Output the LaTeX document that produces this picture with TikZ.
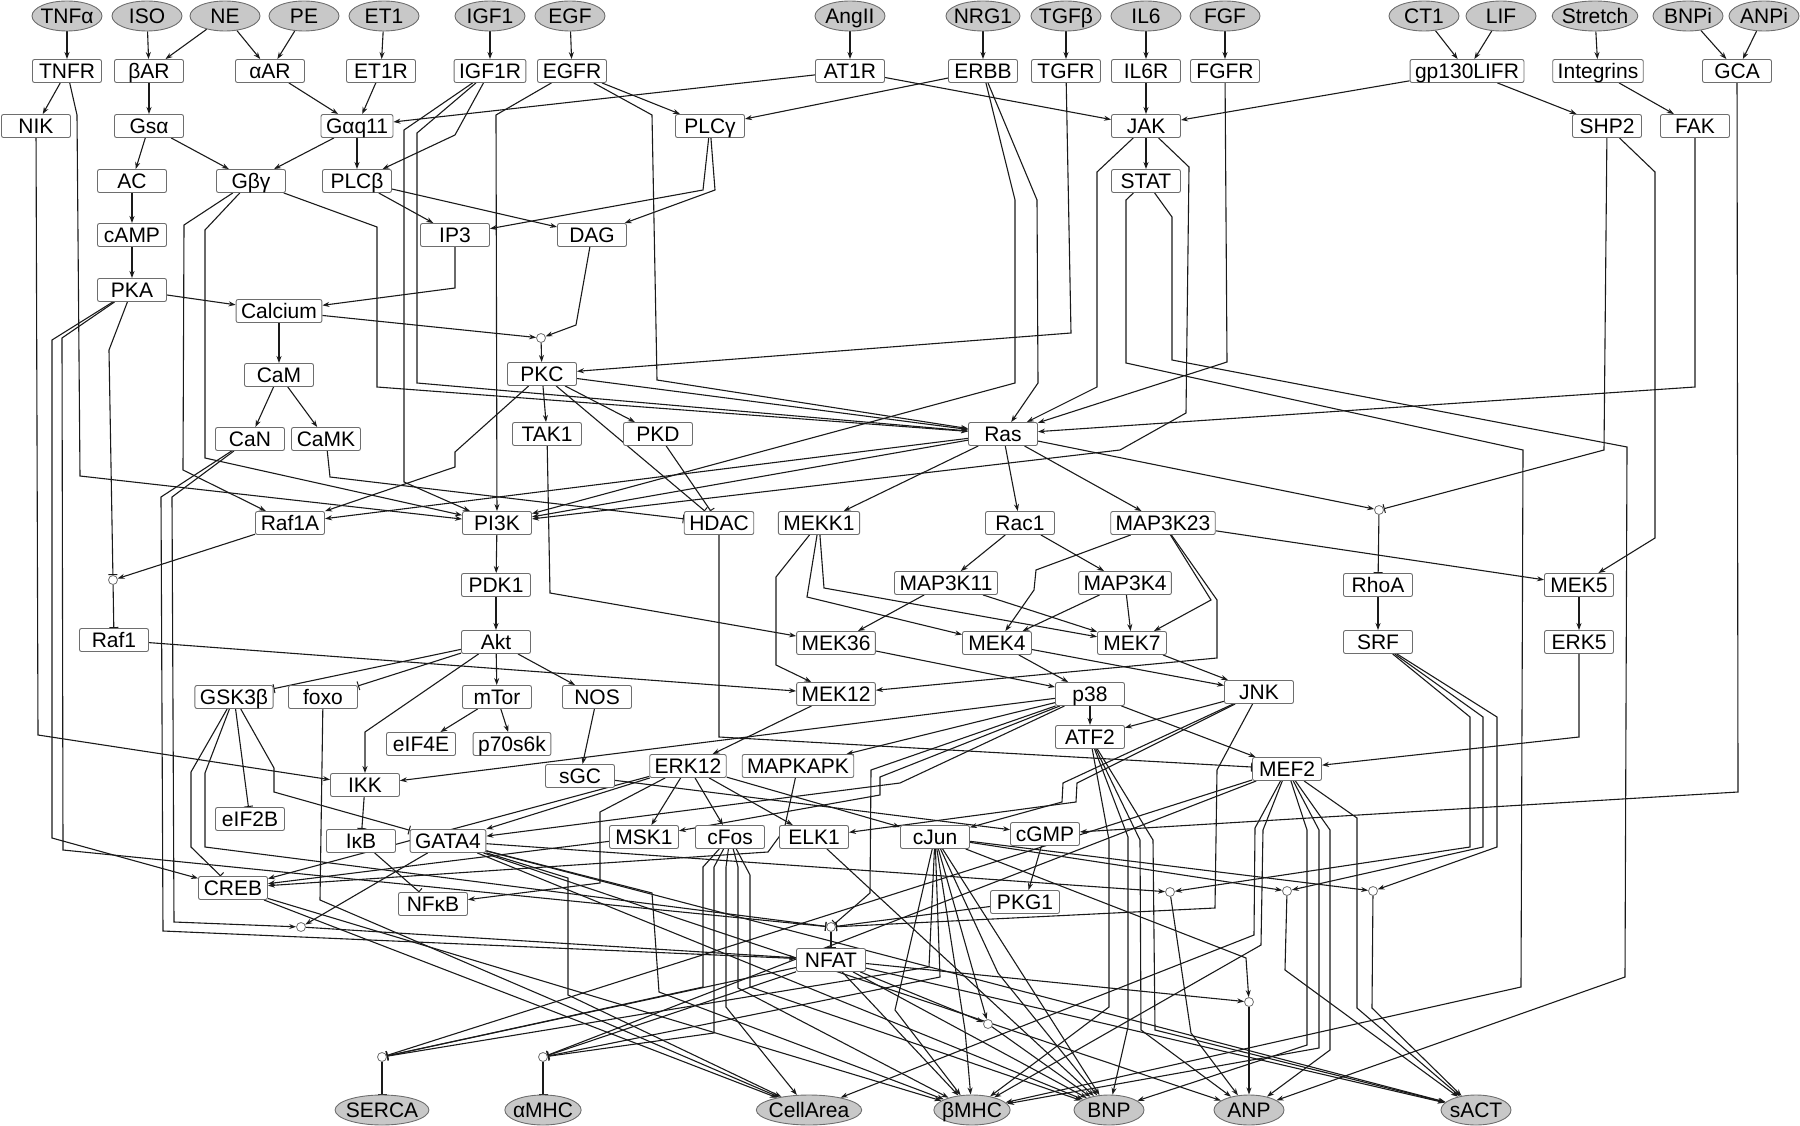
\documentclass[tikz,border=0pt]{standalone}
\usepackage{fontspec}
\setmainfont{Liberation Sans}
\usetikzlibrary{shapes.geometric,arrows.meta}
\definecolor{NodeGray}{HTML}{C8C8C8}
\definecolor{FrameGray}{HTML}{6E6E6E}
\definecolor{LineBlack}{HTML}{1A1A1A}
\pgfdeclarelayer{background}
\pgfsetlayers{background,main}

\begin{document}
\begin{tikzpicture}[
    x=1pt, y=-1pt,
    every node/.style={font=\fontsize{21}{24}\selectfont},
    ligand/.style={ellipse, draw=FrameGray, fill=NodeGray, line width=0.9pt, inner xsep=-3pt, inner ysep=0pt, minimum width=70pt, minimum height=30pt, text height=15pt, text depth=0pt},
    box/.style={rectangle, draw=FrameGray, fill=white, line width=0.9pt, rounded corners=2pt, inner xsep=5pt, inner ysep=0pt, minimum width=69pt, minimum height=23pt, text height=15pt, text depth=0pt},
    gate/.style={circle, draw=FrameGray, fill=white, line width=0.8pt, inner sep=0pt, minimum size=9pt},
    act/.style={-{Stealth[length=7pt,width=5pt]}, line width=1.1pt, draw=LineBlack},
    inh/.style={-{Bar[width=9pt,line width=1pt]}, line width=1.1pt, draw=LineBlack}
  ]
    \useasboundingbox (0,0) rectangle (1800,1126);

    % Inputs (top row)
    \node[ligand] (TNFa) at (67,16) {TNFα};
    \node[ligand] (ISO) at (147,16) {ISO};
    \node[ligand] (NE) at (225,16) {NE};
    \node[ligand] (PE) at (304,16) {PE};
    \node[ligand] (ET1) at (384,16) {ET1};
    \node[ligand] (IGF1) at (490,16) {IGF1};
    \node[ligand] (EGF) at (570,16) {EGF};
    \node[ligand] (AngII) at (850,16) {AngII};
    \node[ligand] (NRG1) at (983,16) {NRG1};
    \node[ligand] (TGFb) at (1066,16) {TGFβ};
    \node[ligand] (IL6) at (1146,16) {IL6};
    \node[ligand] (FGF) at (1225,16) {FGF};
    \node[ligand] (CT1) at (1424,16) {CT1};
    \node[ligand] (LIF) at (1501,16) {LIF};
    \node[ligand] (Stretch) at (1595,16) {Stretch};
    \node[ligand] (BNPi) at (1688,16) {BNPi};
    \node[ligand] (ANPi) at (1764,16) {ANPi};

    % Receptors
    \node[box] (TNFR) at (67,71) {TNFR};
    \node[box] (bAR) at (149,71) {βAR};
    \node[box] (aAR) at (270,71) {αAR};
    \node[box] (ET1R) at (381,71) {ET1R};
    \node[box] (IGF1R) at (490,71) {IGF1R};
    \node[box] (EGFR) at (572,71) {EGFR};
    \node[box] (AT1R) at (850,71) {AT1R};
    \node[box] (ERBB) at (983,71) {ERBB};
    \node[box] (TGFR) at (1066,71) {TGFR};
    \node[box] (IL6R) at (1146,71) {IL6R};
    \node[box] (FGFR) at (1225,71) {FGFR};
    \node[box] (gpLIFR) at (1467,71) {gp130LIFR};
    \node[box] (Integrins) at (1598,71) {Integrins};
    \node[box] (GCA) at (1737,71) {GCA};

    % Upstream signalling
    \node[box] (NIK) at (36,126) {NIK};
    \node[box] (Gsa) at (149,126) {Gsα};
    \node[box] (Gaq11) at (357,126) {Gαq11};
    \node[box] (PLCg) at (710,126) {PLCγ};
    \node[box] (JAK) at (1146,126) {JAK};
    \node[box] (SHP2) at (1607,126) {SHP2};
    \node[box] (FAK) at (1695,126) {FAK};
    \node[box] (AC) at (132,181) {AC};
    \node[box] (Gbg) at (251,181) {Gβγ};
    \node[box] (PLCb) at (357,181) {PLCβ};
    \node[box] (STAT) at (1146,181) {STAT};
    \node[box] (cAMP) at (132,235) {cAMP};
    \node[box] (IP3) at (455,235) {IP3};
    \node[box] (DAG) at (592,235) {DAG};
    \node[box] (PKA) at (132,290) {PKA};
    \node[box] (Calcium) at (279,311) {Calcium};
    \node[gate] (g1) at (541,338) {};
    \node[box] (CaM) at (279,375) {CaM};
    \node[box] (PKC) at (542,374) {PKC};
    \node[box] (CaN) at (250,439) {CaN};
    \node[box] (CaMK) at (326,439) {CaMK};
    \node[box] (TAK1) at (547,434) {TAK1};
    \node[box] (PKD) at (658,434) {PKD};
    \node[box] (Ras) at (1003,434) {Ras};

    % Kinase cascades
    \node[box] (Raf1A) at (290,523) {Raf1A};
    \node[box] (PI3K) at (497,523) {PI3K};
    \node[box] (HDAC) at (719,523) {HDAC};
    \node[box] (MEKK1) at (819,523) {MEKK1};
    \node[box] (Rac1) at (1020,523) {Rac1};
    \node[box] (MAP3K23) at (1163,523) {MAP3K23};
    \node[gate] (g3) at (1379,510) {};
    \node[gate] (g2) at (113,580) {};
    \node[box] (PDK1) at (496,585) {PDK1};
    \node[box] (MAP3K11) at (946,583) {MAP3K11};
    \node[box] (MAP3K4) at (1125,583) {MAP3K4};
    \node[box] (RhoA) at (1378,585) {RhoA};
    \node[box] (MEK5) at (1579,585) {MEK5};
    \node[box] (Raf1) at (114,640) {Raf1};
    \node[box] (Akt) at (496,642) {Akt};
    \node[box] (MEK36) at (836,643) {MEK36};
    \node[box] (MEK4) at (997,643) {MEK4};
    \node[box] (MEK7) at (1132,643) {MEK7};
    \node[box] (SRF) at (1378,642) {SRF};
    \node[box] (ERK5) at (1579,642) {ERK5};
    \node[box] (GSK3b) at (234,697) {GSK3β};
    \node[box] (foxo) at (323,697) {foxo};
    \node[box] (mTor) at (497,697) {mTor};
    \node[box] (NOS) at (597,697) {NOS};
    \node[box] (MEK12) at (836,694) {MEK12};
    \node[box] (p38) at (1090,694) {p38};
    \node[box] (JNK) at (1259,692) {JNK};
    \node[box] (eIF4E) at (421,744) {eIF4E};
    \node[box] (p70s6k) at (512,744) {p70s6k};
    \node[box] (ATF2) at (1090,737) {ATF2};
    \node[box] (ERK12) at (688,766) {ERK12};
    \node[box] (MAPKAPK) at (798,766) {MAPKAPK};
    \node[box] (MEF2) at (1287,769) {MEF2};
    \node[box] (sGC) at (580,776) {sGC};
    \node[box] (IKK) at (365,785) {IKK};
    \node[box] (eIF2B) at (250,819) {eIF2B};

    % Transcription factors
    \node[box] (IkB) at (361,841) {IκB};
    \node[box] (GATA4) at (448,841) {GATA4};
    \node[box] (MSK1) at (644,837) {MSK1};
    \node[box] (cFos) at (730,837) {cFos};
    \node[box] (ELK1) at (814,837) {ELK1};
    \node[box] (cJun) at (935,837) {cJun};
    \node[box] (cGMP) at (1045,834) {cGMP};
    \node[box] (CREB) at (233,888) {CREB};
    \node[gate] (g9) at (1170,892) {};
    \node[gate] (g10) at (1287,891) {};
    \node[gate] (g11) at (1373,891) {};
    \node[box] (NFkB) at (433,904) {NFκB};
    \node[box] (PKG1) at (1025,902) {PKG1};
    \node[gate] (g4) at (301,927) {};
    \node[gate] (g7) at (831,927) {};
    \node[box] (NFAT) at (831,960) {NFAT};
    \node[gate] (g8) at (988,1024) {};
    \node[gate] (g12) at (1249,1002) {};
    \node[gate] (g5) at (382,1057) {};
    \node[gate] (g6) at (543,1057) {};

    % Outputs (bottom row)
    \node[ligand] (SERCA) at (382,1110) {SERCA};
    \node[ligand] (aMHC) at (543,1110) {αMHC};
    \node[ligand] (CellArea) at (809,1110) {CellArea};
    \node[ligand] (bMHC) at (972,1110) {βMHC};
    \node[ligand] (BNP) at (1109,1110) {BNP};
    \node[ligand] (ANP) at (1249,1110) {ANP};
    \node[ligand] (sACT) at (1476,1110) {sACT};

    \begin{pgfonlayer}{background}
    % Ligand to receptor
    \draw[act] (TNFa) -- (TNFR);
    \draw[act] (ISO) -- (bAR);
    \draw[act] (NE) -- (bAR);
    \draw[act] (NE) -- (aAR);
    \draw[act] (PE) -- (aAR);
    \draw[act] (ET1) -- (ET1R);
    \draw[act] (IGF1) -- (IGF1R);
    \draw[act] (EGF) -- (EGFR);
    \draw[act] (AngII) -- (AT1R);
    \draw[act] (NRG1) -- (ERBB);
    \draw[act] (TGFb) -- (TGFR);
    \draw[act] (IL6) -- (IL6R);
    \draw[act] (FGF) -- (FGFR);
    \draw[act] (CT1) -- (gpLIFR);
    \draw[act] (LIF) -- (gpLIFR);
    \draw[act] (Stretch) -- (Integrins);
    \draw[act] (BNPi) -- (GCA);
    \draw[act] (ANPi) -- (GCA);

    % Receptor outputs
    \draw[act] (TNFR) -- (NIK);
    \draw[act] (TNFR) -- (77,115) -- (80,476) -- (PI3K);
    \draw[act] (bAR) -- (Gsa);
    \draw[act] (aAR) -- (Gaq11);
    \draw[act] (ET1R) -- (Gaq11);
    \draw[act] (IGF1R) -- (455,135) -- (PLCb);
    \draw[act] (IGF1R) -- (417,133) -- (417,383) -- (Ras);
    \draw[act] (IGF1R) -- (404,130) -- (404,482) -- (PI3K);
    \draw[act] (EGFR) -- (496,115) -- (PI3K);
    \draw[act] (EGFR) -- (PLCg);
    \draw[act] (EGFR) -- (652,115) -- (657,380) -- (Ras);
    \draw[act] (AT1R) -- (Gaq11);
    \draw[act] (AT1R) -- (JAK);
    \draw[act] (ERBB) -- (PLCg);
    \draw[act] (ERBB) -- (1015,200) -- (1015,383) -- (PI3K);
    \draw[act] (ERBB) -- (1037,200) -- (1038,383) -- (Ras);
    \draw[act] (TGFR) -- (1071,333) -- (PKC);
    \draw[act] (IL6R) -- (JAK);
    \draw[act] (FGFR) -- (1227,362) -- (Ras);
    \draw[act] (gpLIFR) -- (JAK);
    \draw[act] (gpLIFR) -- (SHP2);
    \draw[act] (Integrins) -- (FAK);
    \draw[act] (GCA) -- (1738,792) -- (cGMP);

    % Second messengers
    \draw[act] (NIK) -- (38,735) -- (IKK);
    \draw[act] (Gsa) -- (AC);
    \draw[act] (Gsa) -- (Gbg);
    \draw[act] (Gaq11) -- (Gbg);
    \draw[act] (Gaq11) -- (PLCb);
    \draw[act] (AC) -- (cAMP);
    \draw[act] (cAMP) -- (PKA);
    \draw[act] (Gbg) -- (184,225) -- (183,470) -- (Raf1A);
    \draw[act] (Gbg) -- (205,230) -- (205,458) -- (PI3K);
    \draw[act] (Gbg) -- (377,227) -- (377,387) -- (Ras);
    \draw[act] (PLCb) -- (IP3);
    \draw[act] (PLCb) -- (DAG);
    \draw[act] (PLCg) -- (703,190) -- (IP3);
    \draw[act] (PLCg) -- (715,190) -- (DAG);
    \draw[act] (IP3) -- (455,288) -- (Calcium);
    \draw[act] (DAG) -- (576,325) -- (g1);
    \draw[act] (Calcium) -- (g1);
    \draw[act] (g1) -- (PKC);
    \draw[act] (PKA) -- (Calcium);
    \draw[inh] (PKA) -- (109,350) -- (g2);
    \draw[act] (PKA) -- (52,340) -- (52,838) -- (CREB);
    \draw[inh] (PKA) -- (62,338) -- (63,850) -- (g7);
    \draw[inh] (SHP2) -- (1604,450) -- (g3);
    \draw[act] (SHP2) -- (1655,172) -- (1655,538) -- (MEK5);
    \draw[act] (FAK) -- (1695,387) -- (Ras);
    \draw[act] (JAK) -- (STAT);
    \draw[act] (JAK) -- (1097,172) -- (1097,387) -- (Ras);
    \draw[act] (JAK) -- (1189,167) -- (1186,413) -- (1120,450) -- (PI3K);
    \draw[act] (STAT) -- (1126,200) -- (1126,363) -- (1523,450) -- (1521,987) -- (bMHC);
    \draw[act] (STAT) -- (1172,217) -- (1172,360) -- (1627,447) -- (1625,977) -- (ANP);

    % Calcium and PKC branch
    \draw[act] (Calcium) -- (CaM);
    \draw[act] (CaM) -- (CaN);
    \draw[act] (CaM) -- (CaMK);
    \draw[inh] (CaMK) -- (330,477) -- (HDAC);
    \draw[act] (CaN) -- (172,497) -- (174,922) -- (g4);
    \draw[act] (CaN) -- (161,497) -- (163,931) -- (NFAT);
    \draw[act] (PKC) -- (TAK1);
    \draw[act] (PKC) -- (PKD);
    \draw[inh] (PKC) -- (HDAC);
    \draw[inh] (PKD) -- (HDAC);
    \draw[act] (PKC) -- (Ras);
    \draw[act] (PKC) -- (455,452) -- (455,467) -- (Raf1A);
    \draw[act] (TAK1) -- (550,593) -- (MEK36);

    % Ras branch
    \draw[act] (Ras) -- (Raf1A);
    \draw[act] (Ras) -- (PI3K);
    \draw[act] (Ras) -- (MEKK1);
    \draw[act] (Ras) -- (Rac1);
    \draw[act] (Ras) -- (MAP3K23);
    \draw[act] (Ras) -- (g3);
    \draw[act] (Raf1A) -- (g2);
    \draw[inh] (g2) -- (Raf1);
    \draw[act] (Raf1) -- (MEK12);
    \draw[act] (PI3K) -- (PDK1);
    \draw[act] (PDK1) -- (Akt);
    \draw[inh] (Akt) -- (GSK3b);
    \draw[inh] (Akt) -- (foxo);
    \draw[act] (Akt) -- (mTor);
    \draw[act] (Akt) -- (NOS);
    \draw[act] (Akt) -- (365,732) -- (IKK);
    \draw[act] (mTor) -- (eIF4E);
    \draw[act] (mTor) -- (p70s6k);
    \draw[act] (NOS) -- (sGC);
    \draw[act] (sGC) -- (cGMP);
    \draw[act] (Rac1) -- (MAP3K11);
    \draw[act] (Rac1) -- (MAP3K4);
    \draw[act] (MAP3K23) -- (1036,570) -- (1034,590) -- (MEK4);
    \draw[act] (MAP3K23) -- (1211,600) -- (MEK7);
    \draw[act] (MAP3K23) -- (1217,600) -- (1217,658) -- (MEK12);
    \draw[act] (MAP3K23) -- (MEK5);
    \draw[act] (MEKK1) -- (776,577) -- (776,665) -- (MEK12);
    \draw[act] (MEKK1) -- (807,597) -- (MEK4);
    \draw[act] (MEKK1) -- (824,588) -- (MEK7);
    \draw[act] (MAP3K11) -- (MEK36);
    \draw[act] (MAP3K11) -- (MEK7);
    \draw[act] (MAP3K4) -- (MEK4);
    \draw[act] (MAP3K4) -- (MEK7);
    \draw[act] (MEK36) -- (p38);
    \draw[act] (MEK4) -- (p38);
    \draw[act] (MEK4) -- (JNK);
    \draw[act] (MEK7) -- (JNK);
    \draw[act] (MEK12) -- (ERK12);
    \draw[inh] (g3) -- (RhoA);
    \draw[act] (RhoA) -- (SRF);
    \draw[act] (MEK5) -- (ERK5);
    \draw[act] (ERK5) -- (1579,737) -- (MEF2);
    \draw[inh] (HDAC) -- (719,737) -- (MEF2);

    % GSK3b, IKK and MAPK targets
    \draw[inh] (GSK3b) -- (191,772) -- (191,847) -- (CREB);
    \draw[inh] (GSK3b) -- (205,773) -- (205,847) -- (g7);
    \draw[inh] (GSK3b) -- (eIF2B);
    \draw[inh] (GSK3b) -- (274,768) -- (274,792) -- (GATA4);
    \draw[inh] (IKK) -- (IkB);
    \draw[inh] (IkB) -- (NFkB);
    \draw[act] (p38) -- (ATF2);
    \draw[act] (p38) -- (MEF2);
    \draw[act] (p38) -- (MAPKAPK);
    \draw[act] (p38) -- (IKK);
    \draw[act] (p38) -- (880,777) -- (880,795) -- (MSK1);
    \draw[act] (p38) -- (900,783) -- (GATA4);
    \draw[inh] (p38) -- (871,770) -- (870,893) -- (g7);
    \draw[act] (JNK) -- (ATF2);
    \draw[act] (JNK) -- (1063,783) -- (1062,802) -- (cJun);
    \draw[act] (JNK) -- (1077,783) -- (1076,802) -- (ELK1);
    \draw[inh] (JNK) -- (1217,770) -- (1215,908) -- (g7);
    \draw[act] (ERK12) -- (GATA4);
    \draw[act] (ERK12) -- (CREB);
    \draw[act] (ERK12) -- (MSK1);
    \draw[act] (ERK12) -- (cFos);
    \draw[act] (ERK12) -- (ELK1);
    \draw[act] (ERK12) -- (cJun);
    \draw[act] (ERK12) -- (600,812) -- (600,883) -- (NFkB);
    \draw[act] (MSK1) -- (CREB);
    \draw[act] (MAPKAPK) -- (784,830) -- (768,852) -- (CREB);
    \draw[act] (cGMP) -- (PKG1);
    \draw[inh] (PKG1) -- (g7);
    \draw[inh] (g7) -- (NFAT);
    \draw[act] (GATA4) -- (g4);
    \draw[act] (g4) -- (NFAT);
    \draw[act] (SRF) -- (1470,717) -- (1470,847) -- (g9);
    \draw[act] (SRF) -- (1483,717) -- (1483,847) -- (g10);
    \draw[act] (SRF) -- (1497,717) -- (1497,847) -- (g11);
    \draw[act] (GATA4) -- (g9);
    \draw[act] (cJun) -- (g10);
    \draw[act] (cJun) -- (g11);
    \draw[act] (cJun) -- (1246,958) -- (g12);
    \draw[act] (cJun) -- (g8);
    \draw[act] (NFAT) -- (g8);
    \draw[act] (NFAT) -- (g12);

    % Outputs
    \draw[act] (CREB) -- (CellArea);
    \draw[act] (CREB) -- (bMHC);
    \draw[act] (foxo) -- (320,900) -- (CellArea);
    \draw[act] (GATA4) -- (568,878) -- (568,995) -- (CellArea);
    \draw[act] (GATA4) -- (652,893) -- (659,992) -- (bMHC);
    \draw[act] (GATA4) -- (BNP);
    \draw[act] (GATA4) -- (ANP);
    \draw[act] (GATA4) -- (sACT);
    \draw[inh] (cFos) -- (703,867) -- (703,987) -- (g5);
    \draw[inh] (cFos) -- (714,867) -- (714,1033) -- (g6);
    \draw[act] (cFos) -- (726,867) -- (726,1007) -- (CellArea);
    \draw[act] (cFos) -- (738,867) -- (738,988) -- (bMHC);
    \draw[act] (cFos) -- (750,875) -- (750,987) -- (BNP);
    \draw[act] (ELK1) -- (BNP);
    \draw[act] (cJun) -- (895,1010) -- (bMHC);
    \draw[act] (cJun) -- (965,1030) -- (bMHC);
    \draw[inh] (cJun) -- (929,967) -- (g5);
    \draw[inh] (cJun) -- (940,977) -- (g6);
    \draw[act] (cJun) -- (998,973) -- (BNP);
    \draw[act] (cJun) -- (BNP);
    \draw[inh] (NFAT) -- (g5);
    \draw[inh] (NFAT) -- (g6);
    \draw[act] (NFAT) -- (bMHC);
    \draw[act] (NFAT) -- (BNP);
    \draw[act] (NFAT) -- (sACT);
    \draw[act] (ATF2) -- (1109,840) -- (1109,1007) -- (bMHC);
    \draw[act] (ATF2) -- (1128,837) -- (1128,1027) -- (BNP);
    \draw[act] (ATF2) -- (1140,840) -- (1141,1030) -- (ANP);
    \draw[act] (ATF2) -- (1153,840) -- (1155,1030) -- (sACT);
    \draw[act] (MEF2) -- (1255,828) -- (1254,935) -- (CellArea);
    \draw[act] (MEF2) -- (1263,830) -- (1261,945) -- (bMHC);
    \draw[act] (MEF2) -- (1307,830) -- (1307,1045) -- (BNP);
    \draw[act] (MEF2) -- (1319,830) -- (1319,1048) -- (bMHC);
    \draw[act] (MEF2) -- (1330,830) -- (1330,1050) -- (ANP);
    \draw[act] (MEF2) -- (1357,818) -- (1357,1008) -- (sACT);
    \draw[inh] (MEF2) -- (g5);
    \draw[inh] (MEF2) -- (g6);
    \draw[act] (g8) -- (BNP);
    \draw[act] (g9) -- (1191,1033) -- (ANP);
    \draw[act] (g10) -- (1285,970) -- (sACT);
    \draw[act] (g11) -- (1372,1008) -- (sACT);
    \draw[act] (g12) -- (ANP);
    \draw[inh] (g5) -- (SERCA);
    \draw[inh] (g6) -- (aMHC);
    \end{pgfonlayer}
  \end{tikzpicture}
\end{document}
